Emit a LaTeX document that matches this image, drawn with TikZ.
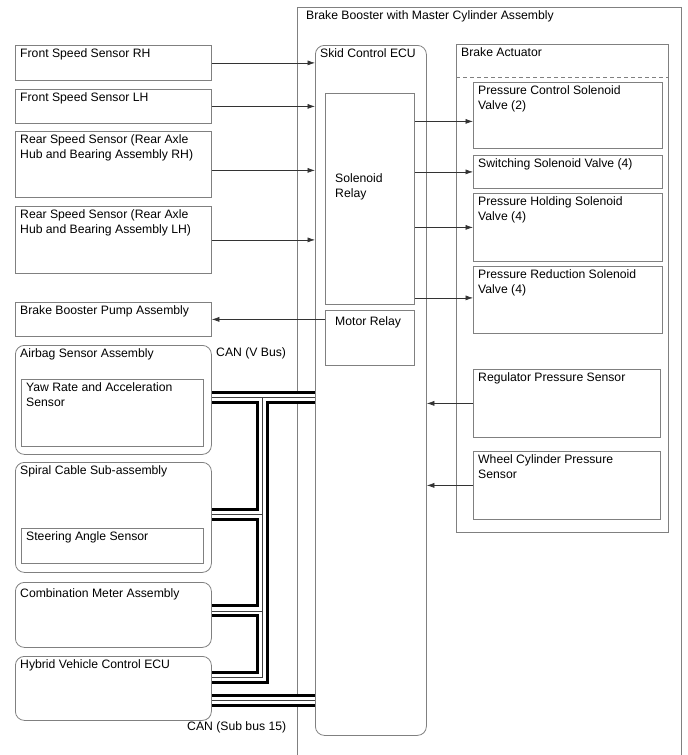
\documentclass[tikz,border=0pt]{standalone}
\usepackage{fontspec}
\setmainfont{Liberation Sans}
\usetikzlibrary{arrows.meta}
\definecolor{boxgray}{gray}{0.5}
\newcommand\boxfont{\fontsize{12.2}{15}\selectfont}

\begin{document}
\begin{tikzpicture}[
  x=1pt, y=-1pt,
  >=Latex,
  box/.style={draw=boxgray, line width=0.8pt, anchor=north west, inner sep=0pt},
  rbox/.style={box, rounded corners=9pt},
  txt/.style={anchor=north west, inner xsep=5pt, inner ysep=3.5pt, align=left, font=\boxfont},
  sig/.style={draw=black!80, line width=0.6pt, -{Latex[length=7.5pt,width=5pt]}},
  busout/.style={line width=13pt, black},
  busin/.style={line width=7pt, white},
  buscore/.style={line width=0.6pt, black!75}
]
\fill[white] (0,0) rectangle (688,755);
\useasboundingbox (0,0) rectangle (688,755);

% --- Brake booster with master cylinder (open at the bottom) ---
\node[box, minimum width=384pt, minimum height=780pt,
  label={[txt, inner xsep=9pt, inner ysep=3.5pt]north west:Brake Booster with Master Cylinder Assembly}] (bbma) at (297,7) {};

% --- Skid control ECU ---
\node[rbox, minimum width=111pt, minimum height=690pt,
  label={[txt]north west:Skid Control ECU}] (ecu) at (315,45) {};
\node[box, minimum width=89pt, minimum height=211pt,
  label={[txt, anchor=west, xshift=5pt, yshift=12pt]west:Solenoid\\Relay}] (solrel) at (325,93) {};
\node[box, minimum width=89pt, minimum height=55pt,
  label={[txt, inner xsep=10pt, inner ysep=6pt]north west:Motor Relay}] (motrel) at (325,310) {};

% --- Brake actuator ---
\node[box, minimum width=212pt, minimum height=488pt,
  label={[txt]north west:Brake Actuator}] (act) at (456,44) {};
\draw[boxgray, line width=0.8pt, dash pattern=on 4pt off 3pt]
  ([yshift=-33pt]act.north west) -- ([yshift=-33pt]act.north east);
\node[box, minimum width=189pt, minimum height=66pt,
  label={[txt]north west:Pressure Control Solenoid\\Valve (2)}] (pcsv) at (473,82) {};
\node[box, minimum width=189pt, minimum height=33pt,
  label={[txt]north west:Switching Solenoid Valve (4)}] (swsv) at (473,155) {};
\node[box, minimum width=189pt, minimum height=68pt,
  label={[txt]north west:Pressure Holding Solenoid\\Valve (4)}] (phsv) at (473,193) {};
\node[box, minimum width=189pt, minimum height=67pt,
  label={[txt]north west:Pressure Reduction Solenoid\\Valve (4)}] (prsv) at (473,266) {};
\node[box, minimum width=187pt, minimum height=68pt,
  label={[txt]north west:Regulator Pressure Sensor}] (regps) at (473,369) {};
\node[box, minimum width=187pt, minimum height=68pt,
  label={[txt]north west:Wheel Cylinder Pressure\\Sensor}] (wcps) at (473,451) {};

% --- Left column ---
\node[box, minimum width=196pt, minimum height=35pt,
  label={[txt]north west:Front Speed Sensor RH}] (fsrh) at (15,45) {};
\node[box, minimum width=196pt, minimum height=34pt,
  label={[txt]north west:Front Speed Sensor LH}] (fslh) at (15,89) {};
\node[box, minimum width=196pt, minimum height=66pt,
  label={[txt]north west:Rear Speed Sensor (Rear Axle\\Hub and Bearing Assembly RH)}] (rsrh) at (15,131) {};
\node[box, minimum width=196pt, minimum height=67pt,
  label={[txt]north west:Rear Speed Sensor (Rear Axle\\Hub and Bearing Assembly LH)}] (rslh) at (15,206) {};
\node[box, minimum width=196pt, minimum height=34pt,
  label={[txt]north west:Brake Booster Pump Assembly}] (pump) at (15,302) {};
\node[rbox, minimum width=196pt, minimum height=109pt,
  label={[txt]north west:Airbag Sensor Assembly}] (airbag) at (15,345) {};
\node[box, minimum width=182pt, minimum height=67pt,
  label={[txt]north west:Yaw Rate and Acceleration\\Sensor}] (yaw) at (21,379) {};
\node[rbox, minimum width=196pt, minimum height=110pt,
  label={[txt]north west:Spiral Cable Sub-assembly}] (spiral) at (15,462) {};
\node[box, minimum width=182pt, minimum height=35pt,
  label={[txt]north west:Steering Angle Sensor}] (steer) at (21,528) {};
\node[rbox, minimum width=196pt, minimum height=65pt,
  label={[txt, inner ysep=6pt]north west:Combination Meter Assembly}] (combi) at (15,582) {};
\node[rbox, minimum width=196pt, minimum height=64pt,
  label={[txt]north west:Hybrid Vehicle Control ECU}] (hvecu) at (15,656) {};

% --- Signal lines ---
\draw[sig] (fsrh.east) -- (fsrh.east -| ecu.west);
\draw[sig] (fslh.east) -- (fslh.east -| ecu.west);
\draw[sig] ([yshift=-6pt]rsrh.east) -- ([yshift=-6pt]rsrh.east -| ecu.west);
\draw[sig] (rslh.east) -- (rslh.east -| ecu.west);
\draw[sig] (motrel.west |- pump.east) -- (pump.east);
\draw[sig] ([yshift=-6pt]solrel.east |- pcsv.west) -- ([yshift=-6pt]pcsv.west);
\draw[sig] (solrel.east |- swsv.west) -- (swsv.west);
\draw[sig] (solrel.east |- phsv.west) -- (phsv.west);
\draw[sig] ([yshift=2pt]solrel.east |- prsv.west) -- ([yshift=2pt]prsv.west);
\draw[sig] (regps.west) -- (regps.west -| ecu.east);
\draw[sig] (wcps.west) -- (wcps.west -| ecu.east);

% --- CAN buses (outline, gap, core) ---
\coordinate (tk) at (262,0);
\foreach \lay in {busout,busin,buscore}{
  \draw[\lay] ([yshift=2.5pt]airbag.east) -- ([yshift=2.5pt]airbag.east -| ecu.west);
  \draw[\lay] ([yshift=2.5pt]airbag.east -| tk) |- ([yshift=11pt]hvecu.east);
  \draw[\lay] ([yshift=3pt]spiral.east) -- ([yshift=3pt]spiral.east -| tk);
  \draw[\lay] ([yshift=4pt]combi.east) -- ([yshift=4pt]combi.east -| tk);
  \draw[\lay] ([yshift=-12pt]hvecu.east) -- ([yshift=-12pt]hvecu.east -| ecu.west);
}
\node[anchor=north west, inner sep=0pt, font=\boxfont] (canv) at (216,347) {CAN (V Bus)};
\node[anchor=north west, inner sep=0pt, font=\boxfont] (cansub) at (187,721) {CAN (Sub bus 15)};

\end{tikzpicture}
\end{document}
